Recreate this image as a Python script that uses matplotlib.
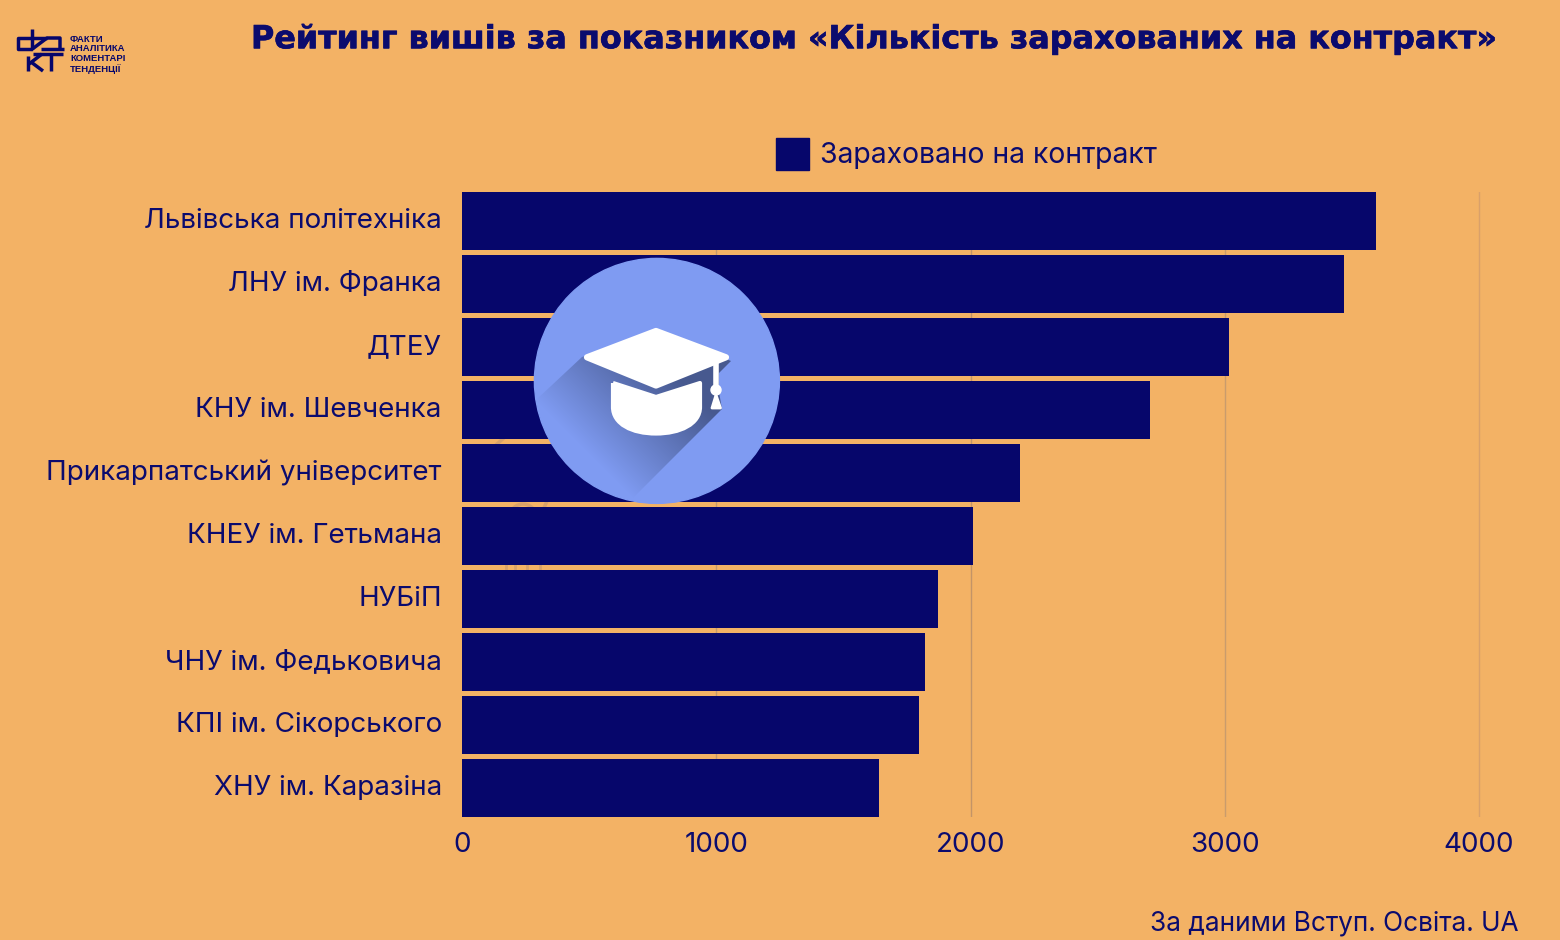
import matplotlib
matplotlib.use('Agg')
import matplotlib.pyplot as plt
import matplotlib.patheffects as pe
from matplotlib.patches import Arc, Circle, Patch, Polygon, PathPatch
from matplotlib.path import Path
from matplotlib.transforms import ScaledTranslation
import numpy as np

universities = ['Львівська політехніка', 'ЛНУ ім. Франка', 'ДТЕУ', 'КНУ ім. Шевченка',
                'Прикарпатський університет', 'КНЕУ ім. Гетьмана', 'НУБіП',
                'ЧНУ ім. Федьковича', 'КПІ ім. Сікорського', 'ХНУ ім. Каразіна']
enrolled = [3595, 3469, 3017, 2706, 2195, 2010, 1872, 1821, 1797, 1640]
x_ticks = [0, 1000, 2000, 3000, 4000]
logo_words = ['ФАКТИ', 'АНАЛІТИКА', 'КОМЕНТАРІ', 'ТЕНДЕНЦІЇ']

BG = '#f3b265'
NAVY = '#06066b'
INK = '#0b0b6e'
BADGE = '#7f9bf2'
W, H = 1560, 940

plt.rcParams['font.family'] = ['Inter', 'DejaVu Sans']

fig = plt.figure(figsize=(W / 100, H / 100), dpi=100, facecolor=BG)

# faint marks of a background drawing, seen only in the gaps between bars
under = fig.add_axes([0, 0, 1, 1], facecolor='none', zorder=0)
under.set_xlim(0, W)
under.set_ylim(H, 0)
under.axis('off')
ghost = '#d9a268'
under.plot([497, 505], [444, 437], color=ghost, lw=2.5)
under.add_patch(Arc((523, 517), 26, 26, theta1=200, theta2=340, color=ghost, lw=2.5))
under.plot([544, 547], [508, 501], color=ghost, lw=2.5)
for gx in [506, 515, 527, 540]:
    under.plot([gx, gx], [564, 571], color=ghost, lw=2)

ax = fig.add_axes([462 / W, 1 - 817 / H, (1520 - 462) / W, (817 - 192) / H], facecolor='none', zorder=1)

positions = np.arange(len(universities))
ax.barh(positions, enrolled, height=58 / 63, color=NAVY, linewidth=0, zorder=3)

ax.set_xlim(0, 1058 / 254.25 * 1000)
ax.set_ylim((817 - 221) / 63, (192 - 221) / 63)
ax.set_yticks(positions, universities)
ax.set_xticks(x_ticks)
ax.tick_params(axis='y', length=0, labelcolor=INK, labelsize=20, pad=14.5)
ax.tick_params(axis='x', length=0, labelcolor=INK, labelsize=20, pad=11)
for label in ax.get_yticklabels():
    label.set_transform(label.get_transform() + ScaledTranslation(0, 3 / 100, fig.dpi_scale_trans))
for spine in ax.spines.values():
    spine.set_visible(False)
for tick, shade in zip(x_ticks[1:], ['#c49a6c', '#c39467', '#c99c6c', '#d9a06a']):
    ax.axvline(tick, color=shade, linewidth=1, zorder=1)

ax.legend(handles=[Patch(color=NAVY, label='Зараховано на контракт')], loc='center left',
          bbox_to_anchor=(776 / W, 1 - 154 / H), bbox_transform=fig.transFigure, frameon=False,
          fontsize=20.4, labelcolor=INK, handlelength=1.16, handleheight=1.35,
          handletextpad=0.39, borderpad=0, borderaxespad=0)

title = fig.text(251 / W, 1 - 39.5 / H, 'Рейтинг вишів за показником «Кількість зарахованих на контракт»',
                 fontsize=22.9, fontweight='bold', color=INK, va='center', ha='left', family='DejaVu Sans')
title.set_path_effects([pe.withStroke(linewidth=0.5, foreground=INK)])
fig.text(1519 / W, 1 - 924 / H, 'За даними Вступ. Освіта. UA', fontsize=18.9, color=INK,
         va='center', ha='right')

# overlay in pixel coordinates for the logo and the badge
over = fig.add_axes([0, 0, 1, 1], facecolor='none', zorder=5)
over.set_xlim(0, W)
over.set_ylim(H, 0)
over.axis('off')

# badge circle with a long diagonal shadow
cx, cy, r = 656.9, 380.9, 122.5
over.add_patch(Circle((cx, cy), r, color=BADGE, zorder=1))
xx, yy = np.meshgrid(np.arange(530, 785), np.arange(255, 510))
fade = np.clip((xx - yy - 135) / 165, 0, 1)
rgba = np.zeros(xx.shape + (4,))
rgba[..., :3] = matplotlib.colors.to_rgb('#47598f')
rgba[..., 3] = fade * (np.hypot(xx - cx, yy - cy) < r - 0.5)
img = over.imshow(rgba, extent=(530, 785, 510, 255), zorder=2, interpolation='bilinear', aspect='auto')
shadow = Polygon([(582, 357), (656, 330), (731, 361), (719, 373), (719, 392), (722, 409), (631, 500), (536, 400)],
                 transform=over.transData, closed=True)
img.set_clip_path(shadow)
over.set_xlim(0, W)
over.set_ylim(H, 0)

# graduation cap
over.add_patch(Polygon([(587, 357.3), (656, 331), (726, 357.3), (656, 385.5)], closed=True,
                       fc='white', ec='white', lw=4.5, joinstyle='round', zorder=3))
verts = [(613, 383), (656, 397), (700, 383), (700, 407), (700, 424), (680, 433.5), (656, 433.5),
         (632, 433.5), (613, 424), (613, 407), (613, 383)]
codes = [Path.MOVETO, Path.LINETO, Path.LINETO, Path.LINETO, Path.CURVE4, Path.CURVE4, Path.CURVE4,
         Path.CURVE4, Path.CURVE4, Path.CURVE4, Path.LINETO]
over.add_patch(PathPatch(Path(verts, codes), fc='white', ec='white', lw=3, joinstyle='round', zorder=3))
over.plot([716, 716], [362, 388], color='white', lw=4, solid_capstyle='butt', zorder=3)
over.add_patch(Circle((716, 390), 5, color='white', zorder=3))
over.add_patch(Polygon([(716, 395), (712, 408), (720.5, 408)], closed=True, fc='white', ec='white',
                       lw=2, joinstyle='round', zorder=3))

# logo mark
logo_lines = [
    [(47, 38), (18, 38), (18, 49), (32, 49)],
    [(32, 29), (32, 49)],
    [(31, 50), (47, 38), (60, 38), (60, 49)],
    [(41, 49), (64, 49)],
    [(28, 56), (28, 71)],
    [(29, 64), (42, 54)],
    [(31, 62), (43, 71)],
    [(33, 53.5), (63, 53.5)],
    [(51, 53), (51, 71)],
]
for seg in logo_lines:
    xs, ys = zip(*seg)
    over.plot(xs, ys, color=NAVY, lw=2.5, solid_capstyle='butt', zorder=3)
for i, word in enumerate(logo_words):
    over.text(70, 39 + i * 9.9, word, fontsize=6.8, fontweight='bold', color=NAVY, va='center',
              ha='left', family='Liberation Sans', zorder=3)

fig.savefig('out.png', dpi=100, facecolor=BG)
